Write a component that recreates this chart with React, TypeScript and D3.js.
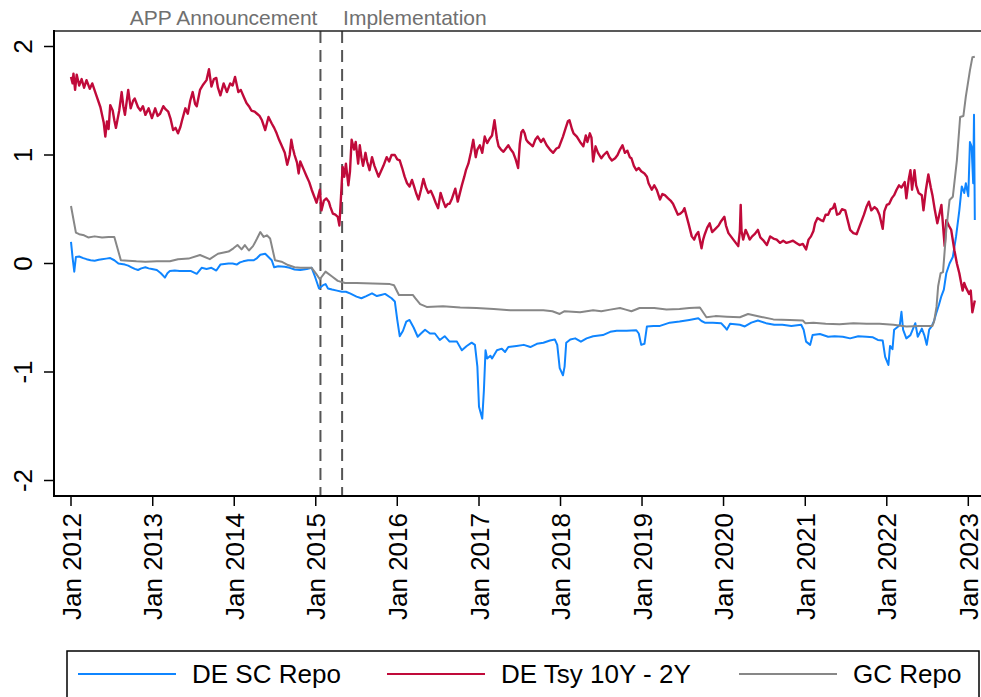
import React from 'react';
import * as d3 from 'd3';

// decimal year, value (percentage points)
const tsySpread: [number, number][] = [
  [2012.00, 1.72], [2012.02, 1.66], [2012.03, 1.75], [2012.05, 1.60], [2012.07, 1.74], [2012.10, 1.64],
  [2012.13, 1.70], [2012.16, 1.62], [2012.19, 1.69], [2012.23, 1.61], [2012.26, 1.66], [2012.31, 1.55],
  [2012.36, 1.44], [2012.40, 1.30], [2012.42, 1.17], [2012.44, 1.31], [2012.46, 1.24], [2012.48, 1.46],
  [2012.51, 1.41], [2012.53, 1.32], [2012.55, 1.25], [2012.59, 1.41], [2012.62, 1.58], [2012.64, 1.45],
  [2012.66, 1.37], [2012.70, 1.60], [2012.73, 1.43], [2012.76, 1.50], [2012.78, 1.52], [2012.82, 1.44],
  [2012.85, 1.41], [2012.88, 1.45], [2012.91, 1.37], [2012.95, 1.43], [2012.99, 1.34], [2013.03, 1.43],
  [2013.06, 1.36], [2013.09, 1.38], [2013.13, 1.45], [2013.16, 1.42], [2013.19, 1.40], [2013.22, 1.33],
  [2013.25, 1.23], [2013.28, 1.25], [2013.31, 1.20], [2013.34, 1.26], [2013.36, 1.32], [2013.40, 1.43],
  [2013.43, 1.38], [2013.46, 1.50], [2013.49, 1.58], [2013.52, 1.47], [2013.54, 1.45], [2013.58, 1.60],
  [2013.62, 1.65], [2013.66, 1.69], [2013.69, 1.79], [2013.72, 1.63], [2013.75, 1.70], [2013.78, 1.71],
  [2013.80, 1.62], [2013.83, 1.55], [2013.87, 1.66], [2013.91, 1.58], [2013.95, 1.66], [2013.98, 1.64],
  [2014.01, 1.72], [2014.05, 1.58], [2014.08, 1.60], [2014.12, 1.53], [2014.15, 1.48], [2014.18, 1.45],
  [2014.21, 1.41], [2014.25, 1.40], [2014.28, 1.38], [2014.31, 1.36], [2014.34, 1.32], [2014.38, 1.23],
  [2014.42, 1.35], [2014.46, 1.29], [2014.49, 1.25], [2014.52, 1.20], [2014.55, 1.14], [2014.58, 1.09],
  [2014.62, 1.02], [2014.65, 0.91], [2014.68, 1.00], [2014.70, 1.14], [2014.72, 1.06], [2014.74, 1.00],
  [2014.77, 0.93], [2014.79, 0.83], [2014.81, 0.94], [2014.85, 0.87], [2014.89, 0.80], [2014.92, 0.75],
  [2014.95, 0.68], [2014.98, 0.62], [2015.01, 0.56], [2015.03, 0.62], [2015.05, 0.68], [2015.07, 0.49],
  [2015.10, 0.58], [2015.13, 0.60], [2015.16, 0.57], [2015.18, 0.52], [2015.21, 0.46], [2015.24, 0.45],
  [2015.27, 0.43], [2015.29, 0.35], [2015.31, 0.62], [2015.33, 0.89], [2015.35, 0.80], [2015.37, 0.92],
  [2015.40, 0.72], [2015.42, 0.85], [2015.44, 1.14], [2015.47, 1.05], [2015.49, 1.12], [2015.52, 0.92],
  [2015.54, 1.09], [2015.56, 0.98], [2015.58, 0.90], [2015.61, 1.02], [2015.63, 0.94], [2015.66, 0.86],
  [2015.69, 0.98], [2015.72, 0.90], [2015.74, 0.86], [2015.77, 0.80], [2015.80, 0.85], [2015.83, 0.90],
  [2015.87, 0.98], [2015.90, 0.94], [2015.93, 1.00], [2015.97, 1.00], [2016.00, 0.96], [2016.03, 0.95],
  [2016.06, 0.88], [2016.09, 0.80], [2016.12, 0.74], [2016.15, 0.71], [2016.18, 0.77], [2016.21, 0.70],
  [2016.23, 0.65], [2016.26, 0.59], [2016.29, 0.68], [2016.32, 0.78], [2016.35, 0.70], [2016.38, 0.65],
  [2016.41, 0.67], [2016.44, 0.62], [2016.47, 0.56], [2016.50, 0.51], [2016.53, 0.65], [2016.56, 0.58],
  [2016.59, 0.52], [2016.62, 0.55], [2016.64, 0.55], [2016.67, 0.60], [2016.71, 0.69], [2016.74, 0.57],
  [2016.77, 0.66], [2016.79, 0.72], [2016.82, 0.80], [2016.84, 0.86], [2016.87, 0.92], [2016.90, 1.02],
  [2016.93, 1.14], [2016.96, 0.98], [2016.98, 1.05], [2017.01, 1.09], [2017.04, 1.02], [2017.07, 1.17],
  [2017.10, 1.11], [2017.13, 1.15], [2017.16, 1.18], [2017.19, 1.32], [2017.22, 1.15], [2017.24, 1.08],
  [2017.27, 1.05], [2017.30, 1.03], [2017.33, 1.06], [2017.36, 1.09], [2017.39, 1.05], [2017.42, 1.02],
  [2017.45, 0.96], [2017.48, 0.88], [2017.50, 1.10], [2017.52, 1.21], [2017.54, 1.23], [2017.56, 1.20],
  [2017.58, 1.14], [2017.60, 1.12], [2017.63, 1.10], [2017.66, 1.08], [2017.69, 1.14], [2017.72, 1.17],
  [2017.76, 1.12], [2017.79, 1.15], [2017.83, 1.09], [2017.87, 1.05], [2017.91, 1.02], [2017.95, 1.06],
  [2017.98, 1.07], [2018.03, 1.17], [2018.06, 1.24], [2018.09, 1.31], [2018.11, 1.32], [2018.14, 1.24],
  [2018.16, 1.20], [2018.20, 1.17], [2018.24, 1.12], [2018.28, 1.08], [2018.31, 1.18], [2018.33, 1.12],
  [2018.36, 1.20], [2018.38, 1.16], [2018.40, 0.94], [2018.43, 1.08], [2018.46, 1.02], [2018.50, 0.97],
  [2018.53, 1.00], [2018.57, 1.03], [2018.60, 0.98], [2018.63, 0.95], [2018.67, 0.97], [2018.70, 1.00],
  [2018.73, 1.05], [2018.76, 1.09], [2018.79, 1.02], [2018.82, 1.04], [2018.85, 0.98], [2018.87, 0.97],
  [2018.90, 0.90], [2018.93, 0.86], [2018.96, 0.88], [2018.99, 0.85], [2019.03, 0.83], [2019.06, 0.80],
  [2019.08, 0.74], [2019.12, 0.68], [2019.15, 0.72], [2019.18, 0.68], [2019.22, 0.59], [2019.25, 0.64],
  [2019.28, 0.63], [2019.32, 0.60], [2019.35, 0.58], [2019.38, 0.55], [2019.41, 0.50], [2019.44, 0.45],
  [2019.47, 0.46], [2019.50, 0.48], [2019.52, 0.51], [2019.57, 0.37], [2019.61, 0.25], [2019.64, 0.22],
  [2019.66, 0.26], [2019.69, 0.29], [2019.73, 0.14], [2019.75, 0.22], [2019.77, 0.27], [2019.80, 0.33],
  [2019.83, 0.37], [2019.86, 0.29], [2019.90, 0.32], [2019.94, 0.35], [2019.97, 0.39], [2020.01, 0.43],
  [2020.03, 0.35], [2020.06, 0.28], [2020.09, 0.25], [2020.12, 0.22], [2020.15, 0.19], [2020.18, 0.16],
  [2020.20, 0.30], [2020.21, 0.54], [2020.22, 0.30], [2020.24, 0.22], [2020.27, 0.31], [2020.30, 0.26],
  [2020.32, 0.22], [2020.35, 0.25], [2020.38, 0.27], [2020.42, 0.31], [2020.45, 0.24], [2020.49, 0.21],
  [2020.53, 0.17], [2020.57, 0.25], [2020.61, 0.23], [2020.65, 0.22], [2020.69, 0.19], [2020.73, 0.21],
  [2020.77, 0.19], [2020.81, 0.20], [2020.85, 0.21], [2020.89, 0.19], [2020.93, 0.17], [2020.97, 0.18],
  [2021.01, 0.13], [2021.04, 0.22], [2021.07, 0.25], [2021.10, 0.30], [2021.12, 0.37], [2021.15, 0.42],
  [2021.19, 0.40], [2021.22, 0.39], [2021.25, 0.45], [2021.28, 0.45], [2021.31, 0.50], [2021.34, 0.51],
  [2021.36, 0.55], [2021.39, 0.45], [2021.42, 0.46], [2021.45, 0.50], [2021.49, 0.49], [2021.52, 0.40],
  [2021.55, 0.31], [2021.59, 0.28], [2021.63, 0.27], [2021.66, 0.33], [2021.69, 0.39], [2021.72, 0.45],
  [2021.75, 0.52], [2021.78, 0.57], [2021.81, 0.49], [2021.85, 0.52], [2021.88, 0.50], [2021.91, 0.45],
  [2021.95, 0.32], [2021.97, 0.48], [2022.00, 0.54], [2022.03, 0.55], [2022.06, 0.60], [2022.09, 0.63],
  [2022.12, 0.68], [2022.15, 0.72], [2022.18, 0.70], [2022.22, 0.75], [2022.24, 0.60], [2022.27, 0.78],
  [2022.29, 0.86], [2022.31, 0.68], [2022.34, 0.86], [2022.36, 0.72], [2022.39, 0.65], [2022.43, 0.63],
  [2022.45, 0.49], [2022.48, 0.68], [2022.51, 0.82], [2022.54, 0.70], [2022.56, 0.63], [2022.59, 0.49],
  [2022.62, 0.37], [2022.65, 0.47], [2022.67, 0.54], [2022.71, 0.16], [2022.73, 0.40], [2022.76, 0.35],
  [2022.79, 0.31], [2022.83, 0.12], [2022.86, 0.00], [2022.89, -0.09], [2022.93, -0.25], [2022.95, -0.18],
  [2022.97, -0.22], [2023.01, -0.28], [2023.03, -0.25], [2023.05, -0.45], [2023.08, -0.34],
];

const scRepo: [number, number][] = [
  [2012.00, 0.20], [2012.02, 0.05], [2012.04, -0.075], [2012.06, 0.06], [2012.10, 0.065], [2012.15, 0.05],
  [2012.19, 0.04], [2012.24, 0.03], [2012.29, 0.026], [2012.34, 0.035], [2012.38, 0.04], [2012.43, 0.045],
  [2012.48, 0.05], [2012.53, 0.03], [2012.58, 0.00], [2012.62, -0.005], [2012.66, -0.01], [2012.70, -0.02],
  [2012.74, -0.035], [2012.78, -0.05], [2012.82, -0.06], [2012.86, -0.045], [2012.91, -0.035], [2012.95, -0.045],
  [2012.99, -0.05], [2013.05, -0.06], [2013.10, -0.09], [2013.15, -0.13], [2013.18, -0.09], [2013.21, -0.07],
  [2013.27, -0.065], [2013.33, -0.07], [2013.40, -0.07], [2013.47, -0.07], [2013.54, -0.095], [2013.60, -0.04],
  [2013.66, -0.05], [2013.72, -0.04], [2013.78, -0.065], [2013.83, -0.01], [2013.88, -0.005], [2013.93, 0.00],
  [2013.98, 0.00], [2014.03, -0.01], [2014.07, 0.01], [2014.11, 0.02], [2014.17, 0.03], [2014.24, 0.03],
  [2014.28, 0.05], [2014.32, 0.08], [2014.38, 0.09], [2014.42, 0.06], [2014.46, 0.03], [2014.49, -0.035],
  [2014.54, -0.025], [2014.62, -0.03], [2014.68, -0.04], [2014.74, -0.055], [2014.81, -0.06], [2014.89, -0.05],
  [2014.95, -0.04], [2014.99, -0.12], [2015.04, -0.23], [2015.09, -0.20], [2015.12, -0.19], [2015.15, -0.23],
  [2015.20, -0.24], [2015.26, -0.25], [2015.32, -0.26], [2015.37, -0.26], [2015.42, -0.275], [2015.50, -0.305],
  [2015.56, -0.32], [2015.62, -0.30], [2015.69, -0.275], [2015.75, -0.30], [2015.80, -0.29], [2015.85, -0.28],
  [2015.93, -0.32], [2015.97, -0.35], [2016.00, -0.52], [2016.03, -0.67], [2016.07, -0.62], [2016.11, -0.535],
  [2016.15, -0.52], [2016.20, -0.59], [2016.25, -0.675], [2016.29, -0.645], [2016.34, -0.61], [2016.40, -0.645],
  [2016.46, -0.645], [2016.52, -0.705], [2016.58, -0.67], [2016.64, -0.72], [2016.73, -0.72], [2016.79, -0.80],
  [2016.85, -0.76], [2016.91, -0.73], [2016.95, -0.75], [2016.98, -0.95], [2017.00, -1.32], [2017.04, -1.43],
  [2017.06, -1.17], [2017.08, -0.80], [2017.10, -0.875], [2017.14, -0.85], [2017.16, -0.875], [2017.22, -0.80],
  [2017.28, -0.785], [2017.32, -0.815], [2017.36, -0.77], [2017.46, -0.76], [2017.55, -0.75], [2017.63, -0.77],
  [2017.71, -0.74], [2017.79, -0.73], [2017.87, -0.71], [2017.93, -0.70], [2017.96, -0.75], [2017.99, -0.965],
  [2018.03, -1.03], [2018.05, -0.95], [2018.07, -0.73], [2018.12, -0.70], [2018.18, -0.69], [2018.25, -0.72],
  [2018.32, -0.69], [2018.40, -0.67], [2018.52, -0.66], [2018.61, -0.63], [2018.69, -0.62], [2018.81, -0.62],
  [2018.93, -0.615], [2018.96, -0.645], [2018.99, -0.75], [2019.03, -0.74], [2019.06, -0.58], [2019.14, -0.575],
  [2019.22, -0.575], [2019.34, -0.545], [2019.46, -0.535], [2019.58, -0.52], [2019.69, -0.505], [2019.73, -0.53],
  [2019.77, -0.545], [2019.87, -0.545], [2019.97, -0.55], [2020.02, -0.59], [2020.04, -0.61], [2020.08, -0.555],
  [2020.20, -0.565], [2020.26, -0.58], [2020.34, -0.545], [2020.42, -0.525], [2020.52, -0.55], [2020.62, -0.565],
  [2020.72, -0.565], [2020.83, -0.575], [2020.95, -0.565], [2020.98, -0.61], [2021.01, -0.72], [2021.06, -0.75],
  [2021.09, -0.66], [2021.18, -0.65], [2021.28, -0.675], [2021.36, -0.67], [2021.46, -0.675], [2021.55, -0.69],
  [2021.65, -0.67], [2021.75, -0.675], [2021.83, -0.68], [2021.89, -0.705], [2021.95, -0.71], [2021.98, -0.86],
  [2022.02, -0.935], [2022.04, -0.76], [2022.07, -0.79], [2022.09, -0.61], [2022.14, -0.58], [2022.16, -0.565],
  [2022.18, -0.445], [2022.20, -0.61], [2022.24, -0.69], [2022.29, -0.66], [2022.35, -0.55], [2022.38, -0.675],
  [2022.43, -0.60], [2022.46, -0.66], [2022.49, -0.75], [2022.52, -0.61], [2022.55, -0.58], [2022.58, -0.53],
  [2022.61, -0.45], [2022.64, -0.38], [2022.67, -0.30], [2022.70, -0.24], [2022.73, -0.09], [2022.77, 0.00],
  [2022.81, 0.06], [2022.85, 0.25], [2022.89, 0.49], [2022.92, 0.71], [2022.95, 0.65], [2022.97, 0.74],
  [2023.00, 0.62], [2023.02, 1.12], [2023.04, 1.08], [2023.06, 0.74], [2023.07, 1.37], [2023.08, 0.40],
];

const gcRepo: [number, number][] = [
  [2012.00, 0.53], [2012.06, 0.285], [2012.10, 0.27], [2012.16, 0.26], [2012.21, 0.24], [2012.29, 0.25],
  [2012.38, 0.24], [2012.46, 0.245], [2012.53, 0.245], [2012.61, 0.03], [2012.70, 0.026], [2012.80, 0.02],
  [2012.91, 0.017], [2013.05, 0.02], [2013.21, 0.02], [2013.31, 0.04], [2013.44, 0.045], [2013.58, 0.078],
  [2013.70, 0.04], [2013.80, 0.09], [2013.93, 0.11], [2013.99, 0.14], [2014.04, 0.17], [2014.09, 0.13],
  [2014.13, 0.17], [2014.18, 0.12], [2014.23, 0.16], [2014.28, 0.23], [2014.32, 0.29], [2014.36, 0.245],
  [2014.40, 0.26], [2014.44, 0.23], [2014.50, 0.03], [2014.58, 0.017], [2014.66, -0.014], [2014.74, -0.035],
  [2014.81, -0.04], [2014.95, -0.04], [2015.01, -0.10], [2015.05, -0.145], [2015.12, -0.075], [2015.20, -0.12],
  [2015.27, -0.16], [2015.36, -0.18], [2015.50, -0.18], [2015.70, -0.185], [2015.91, -0.19], [2015.96, -0.20],
  [2016.02, -0.29], [2016.19, -0.29], [2016.22, -0.32], [2016.28, -0.375], [2016.36, -0.40], [2016.56, -0.395],
  [2016.77, -0.405], [2016.97, -0.41], [2017.18, -0.42], [2017.38, -0.43], [2017.60, -0.43], [2017.79, -0.43],
  [2017.90, -0.44], [2017.99, -0.465], [2018.05, -0.44], [2018.24, -0.45], [2018.40, -0.43], [2018.50, -0.44],
  [2018.61, -0.425], [2018.73, -0.41], [2018.80, -0.425], [2018.87, -0.44], [2018.97, -0.41], [2019.15, -0.41],
  [2019.30, -0.425], [2019.46, -0.42], [2019.58, -0.41], [2019.71, -0.405], [2019.79, -0.495], [2019.90, -0.485],
  [2020.04, -0.49], [2020.20, -0.495], [2020.30, -0.465], [2020.45, -0.49], [2020.61, -0.515], [2020.81, -0.52],
  [2020.97, -0.525], [2021.00, -0.55], [2021.10, -0.545], [2021.25, -0.555], [2021.42, -0.56], [2021.59, -0.55],
  [2021.75, -0.555], [2021.91, -0.555], [2022.08, -0.565], [2022.24, -0.58], [2022.40, -0.575], [2022.56, -0.575],
  [2022.58, -0.535], [2022.61, -0.40], [2022.63, -0.21], [2022.66, -0.09], [2022.69, -0.08], [2022.73, 0.31],
  [2022.77, 0.585], [2022.81, 0.615], [2022.86, 0.95], [2022.90, 1.35], [2022.94, 1.36], [2022.97, 1.54],
  [2023.02, 1.78], [2023.05, 1.90], [2023.08, 1.905],
];

const yTicks = [-2, -1, 0, 1, 2];
const xTickYears = [2012, 2013, 2014, 2015, 2016, 2017, 2018, 2019, 2020, 2021, 2022, 2023];
const eventDates = ['2015-01-22', '2015-04-29'];
const eventLabels = ['APP Announcement', 'Implementation'];

const series = [
  { name: 'DE SC Repo', data: scRepo, color: '#0f85ff', width: 2 },
  { name: 'DE Tsy 10Y - 2Y', data: tsySpread, color: '#c00a3a', width: 2.4 },
  { name: 'GC Repo', data: gcRepo, color: '#878787', width: 2 },
];

const W = 981;
const H = 697;
const FONT = 'Liberation Sans, Arial, Helvetica, sans-serif';

const toDate = (t: number) => {
  const y = Math.floor(t);
  const a = Date.UTC(y, 0, 1);
  const b = Date.UTC(y + 1, 0, 1);
  return new Date(a + (t - y) * (b - a));
};

const App: React.FC = () => {
  const left = 54, top = 31, bottom = 496, right = 985;

  const x = d3
    .scaleUtc()
    .domain([new Date(Date.UTC(2012, 0, 1)), new Date(Date.UTC(2023, 0, 1))])
    .range([71, 968.3]);
  const y = d3.scaleLinear().domain([-2, 2]).range([480.5, 46.5]);

  const line = d3
    .line<[number, number]>()
    .x(d => x(toDate(d[0])))
    .y(d => y(d[1]));

  const legendX = [78, 387, 739];

  return (
    <svg width={W} height={H} style={{ position: 'absolute', left: 0, top: 0, background: '#fff' }}>
      <rect x={0} y={0} width={W} height={H} fill="#fff" />

      {/* event markers */}
      {eventDates.map((d, i) => {
        const ex = x(new Date(d + 'T00:00:00Z'));
        return (
          <g key={d}>
            <line x1={ex} x2={ex} y1={top} y2={bottom} stroke="#555" strokeWidth={2} strokeDasharray="12,7" />
            <text
              x={i === 0 ? ex - 3 : ex + 1}
              y={25}
              fontSize={21}
              fill="#707070"
              fontFamily={FONT}
              textAnchor={i === 0 ? 'end' : 'start'}
            >
              {eventLabels[i]}
            </text>
          </g>
        );
      })}

      {/* series */}
      {series.map(s => (
        <path
          key={s.name}
          d={line(s.data) ?? ''}
          fill="none"
          stroke={s.color}
          strokeWidth={s.width}
          strokeLinejoin="round"
        />
      ))}

      {/* frame */}
      <line x1={left} x2={right} y1={top} y2={top} stroke="#222" strokeWidth={1.5} />
      <line x1={left} x2={left} y1={top - 1} y2={bottom + 1} stroke="#000" strokeWidth={2} />
      <line x1={left - 1} x2={right} y1={bottom} y2={bottom} stroke="#000" strokeWidth={2} />

      {/* y axis */}
      {yTicks.map(t => (
        <g key={t}>
          <line x1={left - 10} x2={left} y1={y(t)} y2={y(t)} stroke="#000" strokeWidth={1.5} />
          <text
            transform={`translate(32,${y(t)}) rotate(-90)`}
            textAnchor="middle"
            fontSize={26}
            fontFamily={FONT}
            fill="#000"
          >
            {t}
          </text>
        </g>
      ))}

      {/* x axis */}
      {xTickYears.map(yr => {
        const tx = x(new Date(Date.UTC(yr, 0, 1)));
        return (
          <g key={yr}>
            <line x1={tx} x2={tx} y1={bottom} y2={bottom + 10} stroke="#000" strokeWidth={1.5} />
            <text
              transform={`translate(${tx + 9.5},513) rotate(-90)`}
              textAnchor="end"
              fontSize={26}
              fontFamily={FONT}
              fill="#000"
            >
              {`Jan ${yr}`}
            </text>
          </g>
        );
      })}

      {/* legend */}
      <rect x={67} y={651} width={912} height={70} fill="none" stroke="#000" strokeWidth={1.5} />
      {series.map((s, i) => (
        <g key={s.name}>
          <line x1={legendX[i]} x2={legendX[i] + 98} y1={674} y2={674} stroke={s.color} strokeWidth={2} />
          <text x={legendX[i] + 114} y={683} fontSize={26} fontFamily={FONT} fill="#000">
            {s.name}
          </text>
        </g>
      ))}
    </svg>
  );
};

export default App;
